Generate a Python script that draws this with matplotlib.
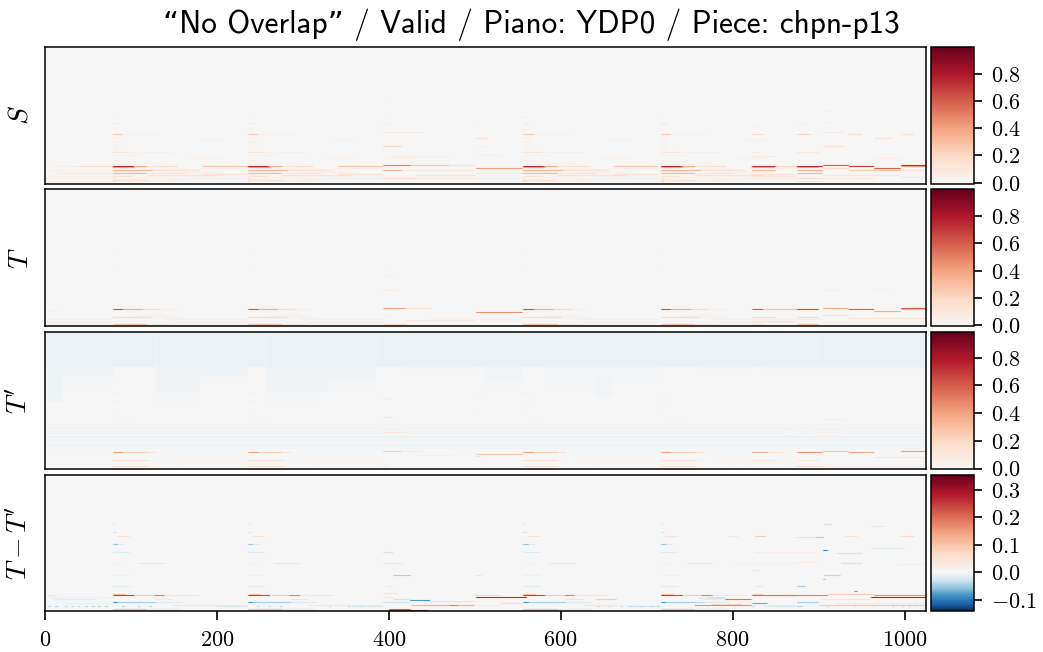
import numpy as np
import matplotlib
matplotlib.use('Agg')
import matplotlib.pyplot as plt
from matplotlib.colors import TwoSlopeNorm, Normalize, ListedColormap

plt.rcParams['mathtext.fontset'] = 'cm'

n_rows, n_cols = 136, 1024
title = '\u201cNo Overlap\u201d / Valid / Piano: YDP0 / Piece: chpn-p13'
row_labels = ['$S$', '$T$', "$T'$", "$T-T'$"]
x_ticks = [0, 200, 400, 600, 800, 1000]
x_ticklabels = ['$0$', '$200$', '$400$', '$600$', '$800$', '$1000$']
cbar_ticks = [[0, .2, .4, .6, .8], [0, .2, .4, .6, .8], [0, .2, .4, .6, .8], [-.1, 0, .1, .2, .3]]
cbar_ticklabels = [['$0.0$', '$0.2$', '$0.4$', '$0.6$', '$0.8$']] * 3 + [['$-0.1$', '$0.0$', '$0.1$', '$0.2$', '$0.3$']]
vmins = [-.007, -.007, -.01, -.14]
vmaxs = [.995, .995, .985, .355]

# the same phrase comes back at these frames
phrase_onsets = [79, 236, 556, 716]

# (row, start, end, value), start and end relative to the phrase onset
S_phrase = [
    (16, 0, 24, .8), (16, 24, 40, .4), (16, 40, 55, .14), (16, 55, 76, .2), (15, 0, 26, .35),
    (12, 0, 46, .34), (12, 46, 100, .14), (9, 0, 40, .34), (9, 40, 85, .12), (7, 40, 120, .14),
    (6, 0, 22, .14), (2, 0, 40, .2), (2, 40, 80, .06), (48, 0, 12, .27), (48, 12, 55, .05),
    (30, 0, 20, .14), (30, 20, 70, .05), (59, 0, 8, .09), (40, 0, 10, .07), (27, 0, 30, .05),
    (65, 0, 5, .05), (36, 0, 6, .06), (22, 0, 12, .06), (24, 90, 125, .06), (42, 100, 125, .05),
    (16, 105, 157, .3), (8, 105, 157, .16), (5, 90, 157, .08), (1, 0, 3, .15), (4, 0, 3, .15),
    (53, 0, 6, .05), (44, 0, 7, .05), (33, 0, 8, .05), (19, 0, 60, .04), (10, 60, 130, .06),
    (13, 30, 90, .06), (5, 20, 70, .05), (3, 60, 157, .05), (11, 0, 30, .12), (14, 100, 157, .05),
]
S_lines = [
    (16, 10, 40, .08), (16, 40, 79, .22), (9, 15, 79, .12), (4, 0, 79, .05), (12, 0, 79, .05), (6, 0, 79, .04),
    (17, 393, 425, .55), (17, 425, 470, .28), (17, 470, 500, .16), (12, 393, 415, .38), (12, 415, 500, .1),
    (4, 393, 430, .22), (4, 430, 500, .12), (7, 430, 500, .16), (36, 393, 415, .24), (50, 393, 440, .09),
    (59, 393, 400, .06), (63, 393, 398, .06), (83, 393, 396, .05), (26, 400, 470, .06), (24, 393, 430, .06),
    (14, 501, 556, .45), (44, 501, 515, .18), (27, 501, 530, .06), (36, 501, 512, .06), (9, 501, 556, .12),
    (4, 501, 556, .06), (56, 501, 506, .05),
    (16, 822, 850, .78), (16, 850, 874, .22), (15, 822, 848, .32), (12, 822, 850, .34), (26, 822, 848, .12),
    (48, 822, 835, .22), (6, 822, 874, .08), (30, 822, 832, .06), (56, 822, 830, .06), (40, 822, 826, .06),
    (16, 874, 904, .8), (15, 874, 900, .35), (12, 874, 904, .38), (9, 874, 904, .34), (4, 874, 904, .16),
    (48, 874, 890, .24), (30, 874, 900, .12), (59, 874, 884, .07), (1, 874, 904, .12),
    (17, 904, 934, .66), (14, 904, 934, .22), (36, 904, 930, .16), (50, 904, 930, .09), (7, 904, 934, .14),
    (70, 904, 912, .05), (60, 904, 912, .05), (4, 904, 934, .1),
    (16, 934, 964, .78), (12, 934, 964, .28), (7, 934, 964, .12), (48, 934, 950, .22), (4, 934, 964, .12),
    (14, 964, 995, .66), (12, 964, 995, .34), (44, 964, 985, .14), (24, 964, 995, .08), (7, 964, 995, .14),
    (17, 995, 1024, .78), (16, 995, 1024, .38), (12, 995, 1024, .14), (48, 995, 1010, .18), (5, 995, 1024, .12),
]

T_phrase = [
    (16, 0, 12, .7), (16, 12, 35, .4), (16, 35, 55, .22), (16, 55, 75, .07), (8, 0, 45, .22),
    (8, 45, 80, .06), (1, 0, 40, .32), (1, 40, 70, .09), (6, 60, 157, .08), (3, 70, 157, .06),
    (73, 0, 3, .04), (55, 0, 3, .03), (10, 25, 70, .05),
]
T_lines = [
    (6, 0, 79, .07), (3, 0, 79, .06), (14, 0, 15, .04),
    (17, 393, 420, .42), (17, 420, 450, .13), (1, 393, 420, .22), (5, 420, 500, .11), (7, 450, 500, .07),
    (35, 393, 410, .08), (50, 393, 405, .05), (60, 393, 396, .04), (10, 393, 400, .07),
    (13, 501, 556, .5), (6, 501, 556, .07),
    (16, 822, 835, .68), (16, 835, 874, .32), (8, 822, 850, .2), (1, 822, 835, .14), (4, 822, 874, .11),
    (16, 874, 900, .74), (8, 874, 900, .22), (1, 874, 900, .32), (6, 874, 904, .09),
    (17, 904, 934, .42), (10, 904, 934, .14), (3, 904, 1024, .07), (35, 904, 925, .05),
    (16, 934, 964, .64), (7, 934, 964, .12), (14, 964, 995, .4), (7, 964, 1024, .14),
    (17, 995, 1024, .64), (16, 995, 1024, .32), (36, 964, 985, .04),
]

# light blue regions of T' (row start, row end, frame start, frame end, value)
Tp_blocks = [
    (100, 136, 0, 1024, -.0005), (66, 100, 0, 20, -.0004), (90, 100, 20, 79, -.0003), (75, 100, 128, 180, -.0003),
    (90, 100, 180, 236, -.0003), (75, 100, 256, 330, -.0003), (87, 100, 330, 385, -.0003), (92, 100, 415, 500, -.0002),
    (88, 100, 510, 556, -.00025), (85, 100, 580, 716, -.0002), (70, 90, 640, 660, -.00025), (90, 100, 760, 822, -.0002),
    (95, 100, 835, 1024, -.0002), (80, 90, 20, 79, -.00015), (65, 75, 128, 175, -.00015), (65, 75, 256, 320, -.00015),
    (75, 87, 330, 385, -.00015), (80, 88, 510, 556, -.0001), (75, 85, 580, 640, -.0001),
]
Tp_band_rows = [43, 40, 38, 36, 34, 31, 30, 28, 26, 23, 21, 19]
Tp_band_values = [-.0003, -.0006, -.0004, -.0003, -.0005, -.0007, -.0004, -.0003, -.0006, -.0006, -.0004, -.0003]
chunk_edges = [128, 256, 385, 512, 641, 769, 896]
Tp_phrase = [
    (15, 0, 12, .45), (15, 12, 40, .27), (15, 40, 50, .16), (7, 0, 40, .18), (7, 40, 50, .05),
    (1, 0, 40, .2), (1, 40, 80, .06), (73, 0, 8, .07), (66, 0, 8, .06), (58, 0, 5, .05),
    (48, 0, 30, .03), (5, 60, 157, .04),
]
Tp_lines = [
    (3, 0, 79, .04), (8, 0, 79, .02),
    (16, 393, 415, .27), (16, 415, 440, .09), (35, 393, 420, .13), (50, 393, 405, .16), (68, 393, 402, .07),
    (12, 430, 470, .07), (1, 393, 400, .12), (13, 501, 556, .3), (69, 501, 508, .06), (55, 501, 505, .05),
    (15, 822, 840, .38), (15, 840, 860, .14), (7, 822, 850, .12), (1, 822, 860, .06), (35, 860, 870, .03),
    (15, 874, 904, .48), (7, 874, 900, .12), (1, 874, 904, .22), (16, 904, 934, .32), (35, 895, 925, .07),
    (48, 904, 930, .08), (15, 934, 964, .42), (10, 964, 1024, .12), (16, 995, 1024, .45), (1, 904, 1024, .07),
    (12, 501, 503, -.02), (12, 503, 507, -.01),
]

D_phrase = [
    (15, 0, 25, .27), (15, 25, 48, .1), (15, 48, 60, .2), (15, 60, 100, .05), (16, 0, 15, .08),
    (8, 0, 6, -.09), (8, 6, 50, -.05), (8, 50, 80, -.02), (1, 0, 40, .12), (1, 40, 80, .05),
    (73, 5, 20, .06), (66, 0, 6, -.06), (66, 6, 14, -.02), (58, 0, 20, -.02), (47, 0, 15, .02),
    (47, 30, 60, -.02), (77, 0, 4, -.03), (85, 0, 3, -.02), (35, 0, 20, -.01), (24, 0, 20, -.02),
    (11, 50, 70, .06), (5, 70, 157, .05), (4, 120, 157, -.03),
]
D_lines = [
    (15, 2, 14, .05), (13, 0, 79, -.01), (11, 10, 60, -.02), (7, 20, 79, .03),
    (17, 395, 410, .06), (13, 393, 405, .05), (10, 424, 448, -.09), (11, 405, 424, -.03), (5, 425, 500, .14),
    (5, 470, 480, .2), (0, 400, 445, .28), (1, 400, 425, .2), (35, 405, 425, -.05), (24, 396, 405, .05),
    (9, 440, 500, -.02), (58, 393, 405, -.03), (47, 393, 415, -.02), (8, 393, 425, -.03),
    (13, 501, 560, .3), (15, 500, 530, -.03), (7, 530, 556, .08), (35, 501, 508, -.02), (5, 501, 530, .03),
    (11, 640, 665, .1), (5, 665, 716, .02), (12, 760, 790, -.03), (11, 790, 822, .22), (13, 770, 790, -.03),
    (5, 755, 822, .18), (6, 775, 810, .08), (73, 795, 805, -.02),
    (15, 822, 874, .22), (16, 822, 835, .08), (7, 822, 840, -.08), (73, 825, 838, .1), (58, 825, 874, .03),
    (47, 800, 874, .02), (40, 822, 830, -.02), (24, 825, 835, -.02),
    (15, 874, 910, .2), (16, 910, 964, .1), (8, 874, 900, -.05), (5, 900, 1024, .1), (13, 960, 1024, .3),
    (15, 964, 1024, .18), (11, 900, 960, .05), (7, 920, 1024, .04), (72, 874, 895, .08), (72, 895, 905, -.05),
    (73, 930, 945, .06), (73, 995, 1010, .08), (60, 904, 910, -.1), (58, 874, 900, .03), (57, 920, 950, -.03),
    (35, 905, 925, -.04), (31, 904, 908, -.06), (24, 874, 884, -.05), (85, 905, 915, -.03), (83, 960, 975, -.02),
    (48, 874, 900, .03), (47, 925, 950, -.03), (46, 990, 1024, .03), (19, 940, 945, -.08), (62, 960, 1000, -.02),
]
D_dots = [4, 12, 23, 31, 38, 47, 55, 62, 70, 90, 108, 121, 246, 260, 273, 330, 352, 366, 642, 655, 669, 680,
          692, 704, 712, 770, 785, 800, 822, 874, 878, 908, 940, 962, 985, 996, 1003, 1012]


def paint(grid, lines, onset=0):
    for row, t0, t1, v in lines:
        grid[row, onset + t0:onset + t1] = v


def soften(g):
    # the reference is a little blurred, lines bleed into the next bins
    g = .88 * g + .12 * (np.roll(g, 1, axis=0) + np.roll(g, -1, axis=0))
    return .5 * g + .25 * (np.roll(g, 1, axis=1) + np.roll(g, -1, axis=1))


S = np.zeros((n_rows, n_cols))
T = np.zeros((n_rows, n_cols))
Tp = np.zeros((n_rows, n_cols))
D = np.zeros((n_rows, n_cols))

for r0, r1, t0, t1, v in Tp_blocks:
    Tp[r0:r1, t0:t1] = v
for row, v in zip(Tp_band_rows, Tp_band_values):
    Tp[row, :] = v
for t in chunk_edges:
    Tp[50:136, t:t + 1] = -.0002

for onset in phrase_onsets:
    paint(S, S_phrase, onset)
    paint(T, T_phrase, onset)
    paint(Tp, Tp_phrase, onset)
    paint(D, D_phrase, onset)
paint(S, S_lines)
paint(T, T_lines)
paint(Tp, Tp_lines)
paint(D, D_lines)
for t in D_dots:
    D[4, t:t + 3] = -.05

reds = ListedColormap(plt.get_cmap('RdBu_r')(np.linspace(.5, 1, 256)))

W, H = 1043., 652.
fig = plt.figure(figsize=(W / 100, H / 100), dpi=100)
tops = [47, 189.5, 332, 474.5]
height = 136.5

for i, grid in enumerate([S, T, Tp, D]):
    ax = fig.add_axes([45 / W, 1 - (tops[i] + height) / H, 881 / W, height / H])
    if i < 2:
        cmap, norm = reds, Normalize(vmin=vmins[i], vmax=vmaxs[i])
        bounds = None
    else:
        cmap, norm = 'RdBu_r', TwoSlopeNorm(vcenter=0, vmin=vmins[i], vmax=vmaxs[i])
        bounds = np.linspace(0 if i == 2 else vmins[i], vmaxs[i], 257)
    im = ax.imshow(soften(grid), origin='lower', aspect='auto', cmap=cmap, norm=norm,
                   extent=[0, 1025, 0, n_rows], interpolation='nearest')
    ax.set_yticks([])
    ax.set_ylabel(row_labels[i], fontsize=20, labelpad=8)
    if i == 3:
        ax.set_xticks(x_ticks)
        ax.set_xticklabels(x_ticklabels, fontsize=16)
        ax.tick_params(axis='x', length=6.5, width=1.2, pad=7)
    else:
        ax.set_xticks([])
    for s in ax.spines.values():
        s.set_linewidth(1.1)

    cax = fig.add_axes([930.5 / W, 1 - (tops[i] + height) / H, 43.5 / W, height / H])
    if bounds is None:
        cb = fig.colorbar(im, cax=cax)
    else:
        cb = fig.colorbar(im, cax=cax, boundaries=bounds, spacing='proportional')
    cb.set_ticks(cbar_ticks[i])
    cb.set_ticklabels(cbar_ticklabels[i], fontsize=16)
    cb.ax.tick_params(length=6, width=1.2, pad=6)
    cb.ax.minorticks_off()
    cb.outline.set_linewidth(1.1)

fig.text(531.5 / W, 1 - 25 / H, title, fontsize=22.5, family=['cmss10', 'DejaVu Sans'], ha='center', va='center')

fig.savefig('out.png', dpi=100)
